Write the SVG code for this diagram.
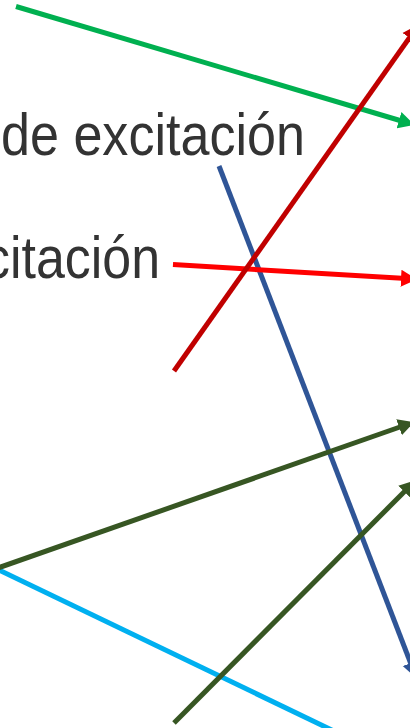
<svg xmlns="http://www.w3.org/2000/svg" width="410" height="728" viewBox="0 0 410 728">
  <style>
    .lbl { font-family: "Liberation Sans", Arial, sans-serif; font-size: 60px; fill: #333333; }
    .ln { fill: none; stroke-width: 5; stroke-linecap: butt; }
  </style>
  <defs>
    <marker id="mGreen" markerUnits="userSpaceOnUse" markerWidth="17" markerHeight="18" viewBox="-1 -9 17 18" refX="0" refY="0" orient="auto"><path d="M-1,-8.5 L15,0 L-1,8.5 z" fill="#00B050"/></marker>
    <marker id="mDarkRed" markerUnits="userSpaceOnUse" markerWidth="17" markerHeight="18" viewBox="-1 -9 17 18" refX="0" refY="0" orient="auto"><path d="M-1,-8.5 L15,0 L-1,8.5 z" fill="#C00000"/></marker>
    <marker id="mRed" markerUnits="userSpaceOnUse" markerWidth="17" markerHeight="18" viewBox="-1 -9 17 18" refX="0" refY="0" orient="auto"><path d="M-1,-8.5 L15,0 L-1,8.5 z" fill="#FF0000"/></marker>
    <marker id="mBlue" markerUnits="userSpaceOnUse" markerWidth="17" markerHeight="18" viewBox="-1 -9 17 18" refX="0" refY="0" orient="auto"><path d="M-1,-8.5 L15,0 L-1,8.5 z" fill="#2F5597"/></marker>
    <marker id="mOlive" markerUnits="userSpaceOnUse" markerWidth="17" markerHeight="18" viewBox="-1 -9 17 18" refX="0" refY="0" orient="auto"><path d="M-1,-8.5 L15,0 L-1,8.5 z" fill="#375623"/></marker>
  </defs>
  <g id="label-1">
    <text class="lbl" x="1" y="155" textLength="304" lengthAdjust="spacingAndGlyphs">de excitación</text>
  </g>
  <g id="label-2">
    <text class="lbl" x="-16" y="278" textLength="176" lengthAdjust="spacingAndGlyphs">citación</text>
  </g>
  <g id="connectors">
    <line class="ln" x1="16" y1="6.5" x2="400" y2="120.5" stroke="#00B050" marker-end="url(#mGreen)"/>
    <line class="ln" x1="219" y1="166" x2="411" y2="664" stroke="#2F5597" marker-end="url(#mBlue)"/>
    <line class="ln" x1="173" y1="264.5" x2="402" y2="278.3" stroke="#FF0000" marker-end="url(#mRed)"/>
    <line class="ln" x1="174" y1="371" x2="410" y2="37" stroke="#C00000" marker-end="url(#mDarkRed)"/>
    <line class="ln" x1="-5" y1="568" x2="340" y2="734" stroke="#00B0F0"/>
    <line class="ln" x1="-5" y1="569" x2="400" y2="427" stroke="#375623" marker-end="url(#mOlive)"/>
    <line class="ln" x1="174" y1="723" x2="405" y2="491" stroke="#375623" marker-end="url(#mOlive)"/>
  </g>
</svg>
